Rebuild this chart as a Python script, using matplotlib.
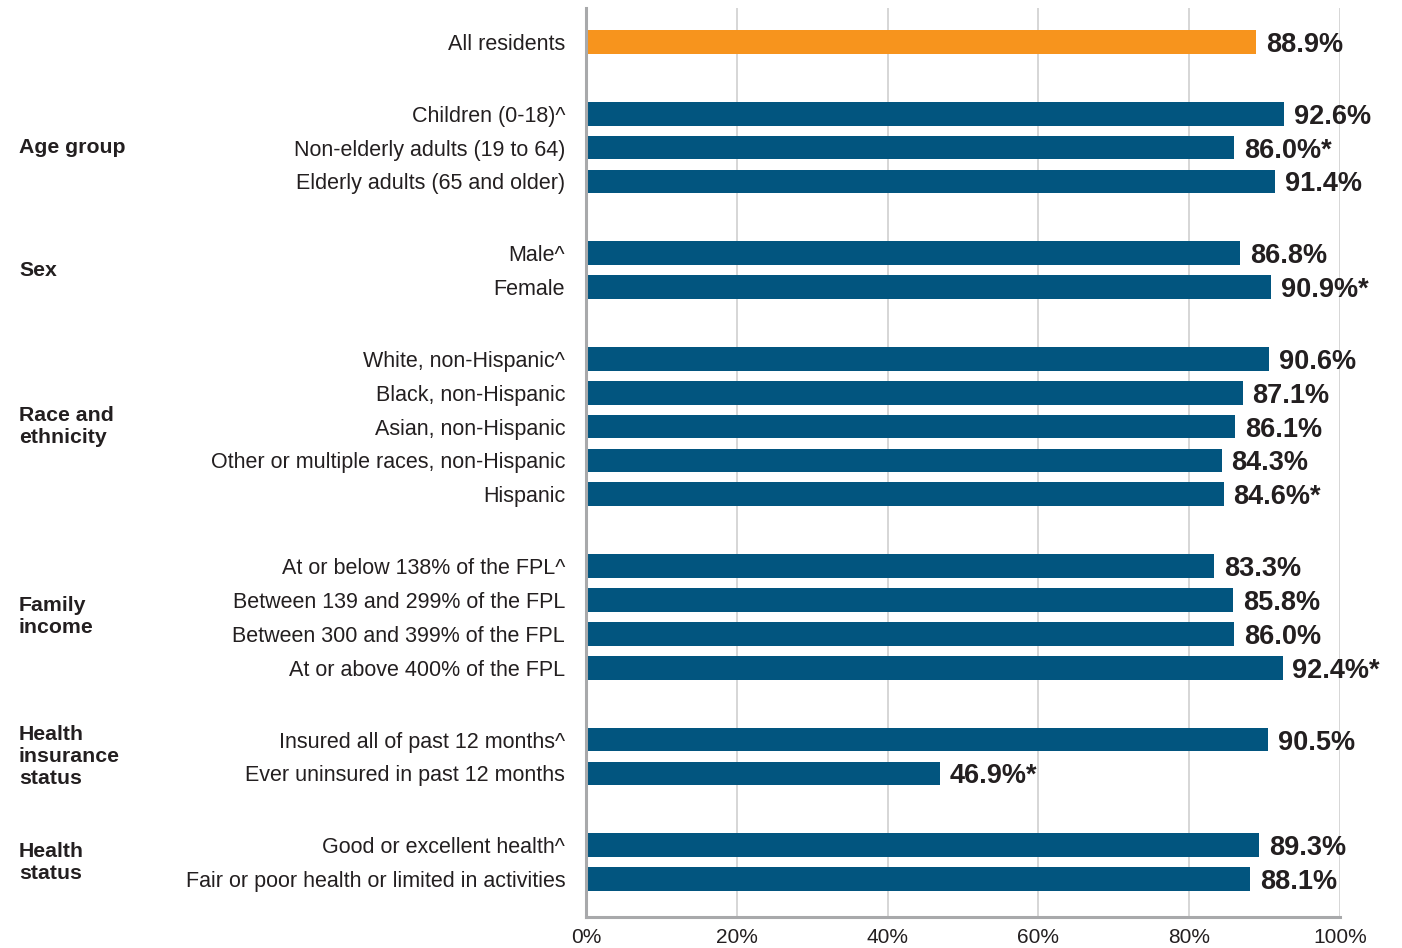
import matplotlib.pyplot as plt
import matplotlib.transforms as mtransforms
import numpy as np

groups = ['', 'Age group', 'Sex', 'Race and\nethnicity', 'Family\nincome',
          'Health\ninsurance\nstatus', 'Health\nstatus']
categories = [
    ['All residents'],
    ['Children (0-18)^', 'Non-elderly adults (19 to 64)', 'Elderly adults (65 and older)'],
    ['Male^', 'Female'],
    ['White, non-Hispanic^', 'Black, non-Hispanic', 'Asian, non-Hispanic',
     'Other or multiple races, non-Hispanic', 'Hispanic'],
    ['At or below 138% of the FPL^', 'Between 139 and 299% of the FPL',
     'Between 300 and 399% of the FPL', 'At or above 400% of the FPL'],
    ['Insured all of past 12 months^', 'Ever uninsured in past 12 months'],
    ['Good or excellent health^', 'Fair or poor health or limited in activities'],
]
values = [
    [88.9],
    [92.6, 86.0, 91.4],
    [86.8, 90.9],
    [90.6, 87.1, 86.1, 84.3, 84.6],
    [83.3, 85.8, 86.0, 92.4],
    [90.5, 46.9],
    [89.3, 88.1],
]
significant = [
    [False],
    [False, True, False],
    [False, True],
    [False, False, False, False, True],
    [False, False, False, True],
    [False, True],
    [False, False],
]

ORANGE = '#F7941D'
BLUE = '#02557F'
TEXT = '#231F20'

# row positions: step 1 inside a group, wider gap between groups
pos, labels, vals, stars, group_mid = [], [], [], [], []
y = 0.0
for gi, (cats, vs, ss) in enumerate(zip(categories, values, significant)):
    if gi > 0:
        y += 1.12
    start = y
    for c, v, s in zip(cats, vs, ss):
        pos.append(y)
        labels.append(c)
        vals.append(v)
        stars.append(s)
        y += 1
    group_mid.append((start + y - 1) / 2)

fig = plt.figure(figsize=(14.02, 9.48), dpi=100)
ax = fig.add_axes([586 / 1402, 1 - 917 / 948, (1340 - 586) / 1402, (917 - 8) / 948])

colors = [ORANGE] + [BLUE] * (len(vals) - 1)
bars = ax.barh(pos, vals, height=0.7, color=colors, zorder=3)

bar_text = [f'{v:.1f}%' + ('*' if s else '') for v, s in zip(vals, stars)]
texts = ax.bar_label(bars, labels=bar_text, padding=7, color=TEXT, fontsize=19.5,
                     fontweight='bold', family='Liberation Sans')
for t in texts:
    t.set_va('center_baseline')

ax.set_xlim(0, 100)
ax.set_ylim(pos[-1] + 1.12, pos[0] - 1.0)
ax.set_xticks(np.arange(0, 101, 20))
ax.set_xticklabels([f'{t}%' for t in range(0, 101, 20)])
ax.set_yticks(pos)
ax.set_yticklabels(labels)
ax.tick_params(axis='y', length=0, pad=15, labelsize=15.5, labelcolor=TEXT)
ax.tick_params(axis='x', length=0, pad=8, labelsize=15, labelcolor=TEXT)
for lab in ax.get_xticklabels() + ax.get_yticklabels():
    lab.set_family('Liberation Sans')

ax.grid(axis='x', color='#d3d3d3', linewidth=1.3, zorder=0)
for side in ['top', 'right']:
    ax.spines[side].set_visible(False)
for side in ['left', 'bottom']:
    ax.spines[side].set_color('#a8a9ab')
    ax.spines[side].set_linewidth(2.2)
    ax.spines[side].set_zorder(4)

trans = mtransforms.blended_transform_factory(fig.transFigure, ax.transData)
for g, m in zip(groups, group_mid):
    if g:
        ax.text(19 / 1402, m, g, transform=trans, ha='left', va='center',
                fontsize=15.3, fontweight='bold', color=TEXT,
                family='Liberation Sans', linespacing=1.2)

fig.savefig('out.png', dpi=100)
